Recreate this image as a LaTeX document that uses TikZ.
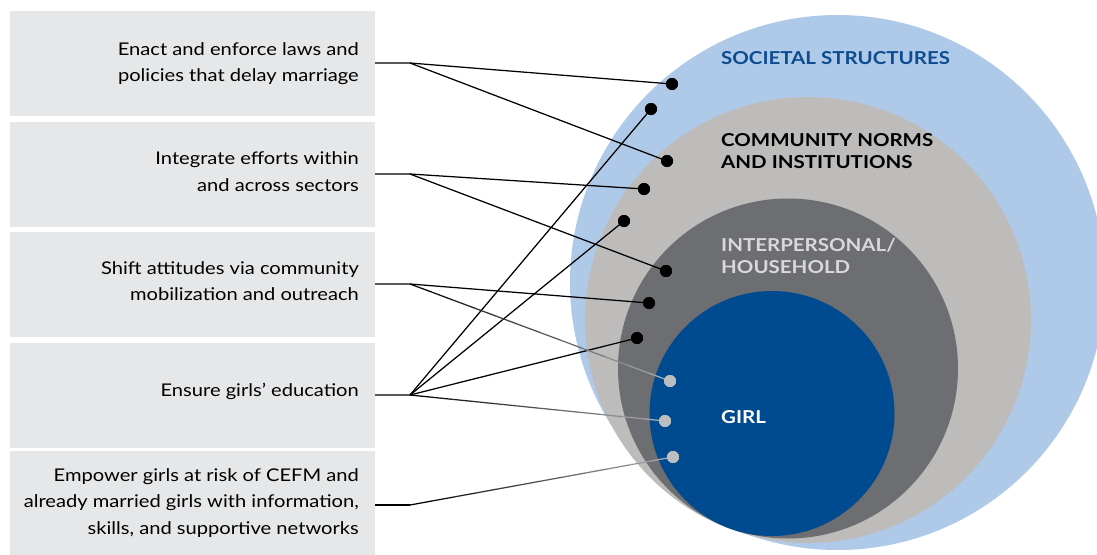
\documentclass[tikz,border=0pt]{standalone}
\usepackage{fontspec}
\setmainfont{Lato}[FakeStretch=1.15]
\usetikzlibrary{calc}
\definecolor{boxgray}{HTML}{E6E7E8}
\definecolor{socblue}{HTML}{AFCAE8}
\definecolor{commgray}{HTML}{BDBCBB}
\definecolor{intgray}{HTML}{6D6E71}
\definecolor{girlblue}{HTML}{004A8F}
\definecolor{soctext}{HTML}{0D4C91}
\definecolor{inttext}{HTML}{D9D9DA}
\definecolor{dotgray}{HTML}{BCBEC0}
\definecolor{linegray}{HTML}{A7A9AC}
\tikzset{
  actbox/.style={fill=boxgray, draw=none, minimum width=365pt, minimum height=105pt, inner sep=0pt},
  acttext/.style={anchor=east, align=right, inner sep=0pt, font=\fontsize{17.5}{26.5}\selectfont},
  ring/.style={circle, draw=none, inner sep=0pt},
  bdot/.style={circle, fill=black, inner sep=0pt, minimum size=12pt},
  gdot/.style={circle, fill=dotgray, inner sep=0pt, minimum size=12pt},
  link/.style={draw=black, line width=1.25pt},
  lvl/.style={anchor=west, font=\fontsize{17.8}{22}\selectfont\bfseries, align=left, inner sep=0pt},
}
\newcommand{\fadelink}[2]{%
  \foreach \k in {0,...,11}{%
    \pgfmathtruncatemacro{\pc}{100-\k*100/11}%
    \draw[line width=1.25pt, color=black!\pc!linegray]
      ($(#1)!{\k/12}!(#2)$) -- ($(#1)!{(\k+1)/12}!(#2)$);
  }%
}
\begin{document}
\begin{tikzpicture}[x=1pt,y=-1pt]
\useasboundingbox (0,0) rectangle (1097,554);
\clip (0,0) rectangle (1097,554);
% rings
\node[ring, fill=socblue, minimum size=535pt] (soc) at (837.5,282.5) {};
\node[ring, fill=commgray, minimum size=446pt] (comm) at (808,320) {};
\node[ring, fill=intgray, minimum size=340pt] (inter) at (788,368.5) {};
\node[ring, fill=girlblue, minimum size=245pt] (girl) at (772,413.5) {};
% level labels
\node[lvl, text=soctext] (lsoc) at (721,58) {SOCIETAL STRUCTURES};
\node[lvl, text=black] (lcomm) at (721,151) {COMMUNITY NORMS\\AND INSTITUTIONS};
\node[lvl, text=inttext] (lint) at (721,256) {INTERPERSONAL/\\HOUSEHOLD};
\node[lvl, text=white] (lgirl) at (721,417) {GIRL};
% boxes
\node[actbox] (b1) at (192.5,63.5) {};
\node[actbox] (b2) at (192.5,174) {};
\node[actbox] (b3) at (192.5,284.5) {};
\node[actbox] (b4) at (192.5,395) {};
\node[actbox] (b5) at (192.5,503) {};
\node[acttext] (t1) at (359,63.5) {Enact and enforce laws and\\policies that delay marriage};
\node[acttext] (t2) at (359,171.5) {Integrate efforts within\\and across sectors};
\node[acttext] (t3) at (359,281) {Shift attitudes via community\\mobilization and outreach};
\node[acttext] (t4) at (359,391) {Ensure girls’ education};
\node[acttext] (t5) at (359,503) {Empower girls at risk of CEFM and\\already married girls with information,\\skills, and supportive networks};
% junctions
\coordinate (j1) at (410,63);
\coordinate (j2) at (410,174);
\coordinate (j3) at (410,284);
\coordinate (j4) at (410,395);
\coordinate (j5) at (410,505);
% dots
\node[bdot] (d1) at (672,84) {};
\node[bdot] (d2) at (651,109) {};
\node[bdot] (d3) at (667,161) {};
\node[bdot] (d4) at (644,189) {};
\node[bdot] (d5) at (624,221) {};
\node[bdot] (d6) at (666,271) {};
\node[bdot] (d7) at (649,303) {};
\node[bdot] (d8) at (637,338) {};
\node[gdot] (g1) at (670,381) {};
\node[gdot] (g2) at (665,421) {};
\node[gdot] (g3) at (673,457) {};
% connectors
\draw[link] (b1.east |- j1) -- (j1) -- (d1.center);
\draw[link] (j1) -- (d3.center);
\draw[link] (b2.east |- j2) -- (j2) -- (d4.center);
\draw[link] (j2) -- (d6.center);
\draw[link] (b3.east |- j3) -- (j3) -- (d7.center);
\draw[link] (b4.east |- j4) -- (j4) -- (d2.center);
\draw[link] (j4) -- (d5.center);
\draw[link] (j4) -- (d8.center);
\draw[link] (b5.east |- j5) -- (j5);
\fadelink{j3}{g1.center}
\fadelink{j4}{g2.center}
\fadelink{j5}{g3.center}
% redraw dots on top
\node[bdot] at (d1) {};
\node[bdot] at (d2) {};
\node[bdot] at (d3) {};
\node[bdot] at (d4) {};
\node[bdot] at (d5) {};
\node[bdot] at (d6) {};
\node[bdot] at (d7) {};
\node[bdot] at (d8) {};
\node[gdot] at (g1) {};
\node[gdot] at (g2) {};
\node[gdot] at (g3) {};
\end{tikzpicture}
\end{document}
